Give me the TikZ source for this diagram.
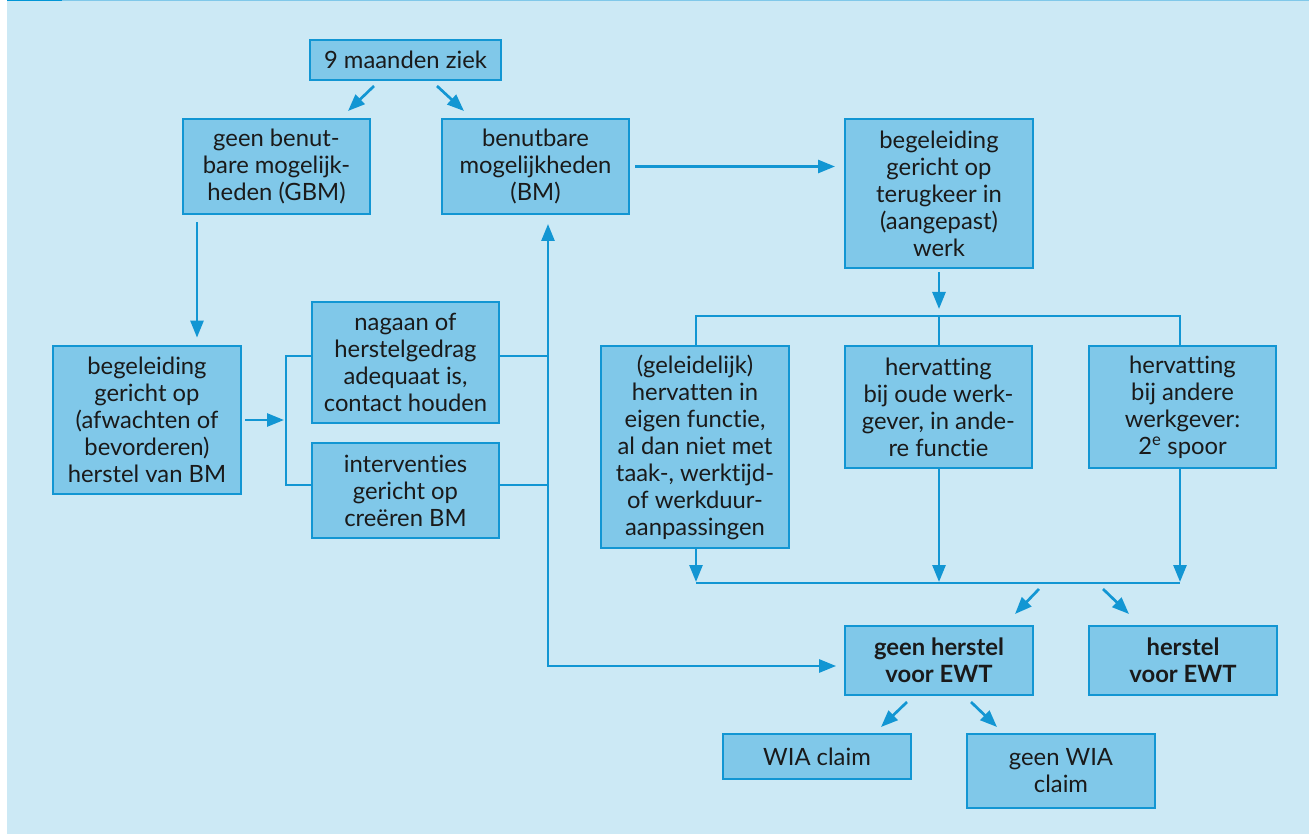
\documentclass[tikz,border=0pt]{standalone}
\usepackage{fontspec}
\setmainfont{Lato}[Ligatures={NoCommon}]
\usetikzlibrary{arrows.meta}
\definecolor{bg}{HTML}{CCE9F5}
\definecolor{boxfill}{HTML}{80C8E9}
\definecolor{linec}{HTML}{1296D3}
\definecolor{topdark}{HTML}{0096D6}
\definecolor{txt}{HTML}{1A1A1A}
\begin{document}
\begin{tikzpicture}[x=1pt,y=-1pt,
  box/.style={draw=linec, line width=2.8pt, fill=boxfill, align=center, inner sep=0pt,
    text=txt, font=\fontsize{23.8}{27}\selectfont},
  boldbox/.style={box, font=\fontsize{23.8}{27}\selectfont\bfseries},
  conn/.style={draw=linec, line width=2.7pt},
  tip/.tip={Triangle[length=17pt,width=13pt]},
  arr/.style={conn, -tip}]
\useasboundingbox (0,0) rectangle (1309,834);
\fill[bg] (7,0) rectangle (1309,834);
\fill[topdark] (7,0) rectangle (62,1.5);
\fill[boxfill] (62,0) rectangle (1309,1.5);

% nodes
\node[box, minimum width=191, minimum height=40] (zk) at (405.5,60) {9 maanden ziek};
\node[box, minimum width=187, minimum height=95] (gbm) at (276.5,166.5) {geen benut-\\bare mogelijk-\\heden (GBM)};
\node[box, minimum width=187, minimum height=95] (bm) at (535.5,166.5) {benutbare\\mogelijkheden\\(BM)};
\node[box, minimum width=188, minimum height=149] (terug) at (939,193.5) {begeleiding\\gericht op\\terugkeer in\\(aangepast)\\werk};
\node[box, minimum width=188, minimum height=148] (herst) at (147,420) {begeleiding\\gericht op\\(afwachten of\\bevorderen)\\herstel van BM};
\node[box, minimum width=187, minimum height=121] (nagaan) at (405.5,362.5) {nagaan of\\herstelgedrag\\adequaat is,\\contact houden};
\node[box, minimum width=187, minimum height=95] (interv) at (405.5,490.5) {interventies\\gericht op\\creëren BM};
\node[box, minimum width=188, minimum height=202] (geleid) at (695,447) {(geleidelijk)\\hervatten in\\eigen functie,\\al dan niet met\\taak-, werktijd-\\of werkduur-\\aanpassingen};
\node[box, minimum width=187, minimum height=122] (oude) at (938.5,407) {hervatting\\bij oude werk-\\gever, in ande-\\re functie};
\node[box, minimum width=187, minimum height=122] (andere) at (1182.5,407) {hervatting\\bij andere\\werkgever:\\2\textsuperscript{e} spoor};
\node[boldbox, minimum width=188, minimum height=69] (geenh) at (939,660.5) {geen herstel\\voor EWT};
\node[boldbox, minimum width=188, minimum height=69] (herstel) at (1183,660.5) {herstel\\voor EWT};
\node[box, minimum width=188, minimum height=45] (wia) at (817,756.5) {WIA claim};
\node[box, minimum width=188, minimum height=74] (gwia) at (1061,771) {geen WIA\\claim};

% coordinates
\coordinate (z1s) at (374,86);  \coordinate (z1e) at (348,111);
\coordinate (z2s) at (437,86);  \coordinate (z2e) at (464,111);
\coordinate (gx) at (197,0);
\coordinate (bt) at (286,356); \coordinate (bb) at (286,485); \coordinate (bc) at (286,420);
\coordinate (vt) at (548,356); \coordinate (vb) at (548,485); \coordinate (vc) at (548,666);
\coordinate (ht) at (939,316); \coordinate (hl) at (696,316); \coordinate (hr) at (1180,316);
\coordinate (bl) at (696,583); \coordinate (bmid) at (939,583); \coordinate (brr) at (1180,583);
\coordinate (d1s) at (1039,589); \coordinate (d1e) at (1015,614);
\coordinate (d2s) at (1103,589); \coordinate (d2e) at (1129,614);
\coordinate (w1s) at (907,702); \coordinate (w1e) at (881,727);
\coordinate (w2s) at (971,702); \coordinate (w2e) at (997,727);

% connectors
\draw[arr] (z1s) -- (z1e);
\draw[arr] (z2s) -- (z2e);
\draw[arr, shorten <=7pt, shorten >=7pt] (gbm.south -| gx) -- (herst.north -| gx);
\draw[arr, shorten <=3pt, shorten >=2pt] (herst.east) -- (bc);
\draw[conn] (nagaan.west |- bt) -- (bt) -- (bb) -- (interv.west |- bb);
\draw[conn] (nagaan.east |- vt) -- (vt);
\draw[conn] (interv.east |- vb) -- (vb);
\draw[conn, tip-tip, shorten <=8.6pt, shorten >=7.5pt] (vc |- bm.south) -- (vc) -- (vc -| geenh.west);
\draw[arr, shorten <=4.6pt, shorten >=8.6pt] (bm.east) -- (bm.east -| terug.west);
\draw[arr, shorten <=3pt, shorten >=7pt] (terug.south) -- (ht);
\draw[conn] (hl |- geleid.north) -- (hl) -- (hr) -- (hr |- andere.north);
\draw[conn] (ht) -- (ht |- oude.north);
\draw[conn] (bl) -- (brr);
\draw[arr, shorten >=1pt] (bl |- geleid.south) -- (bl);
\draw[arr, shorten >=1pt] (bmid |- oude.south) -- (bmid);
\draw[arr, shorten >=1pt] (brr |- andere.south) -- (brr);
\draw[arr] (d1s) -- (d1e);
\draw[arr] (d2s) -- (d2e);
\draw[arr] (w1s) -- (w1e);
\draw[arr] (w2s) -- (w2e);
\end{tikzpicture}
\end{document}
